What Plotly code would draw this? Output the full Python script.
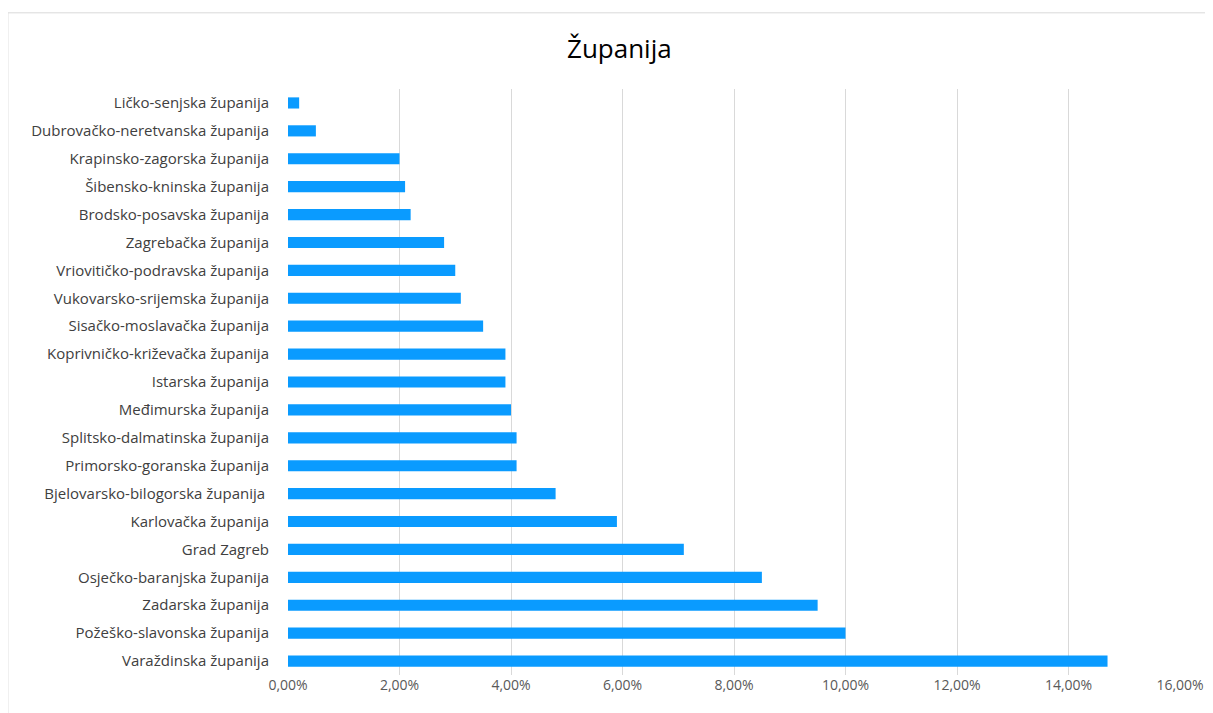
import plotly.graph_objects as go

# counties, listed top to bottom as in the chart
zupanije = [
    "Ličko-senjska županija",
    "Dubrovačko-neretvanska županija",
    "Krapinsko-zagorska županija",
    "Šibensko-kninska županija",
    "Brodsko-posavska županija",
    "Zagrebačka županija",
    "Vriovitičko-podravska županija",
    "Vukovarsko-srijemska županija",
    "Sisačko-moslavačka županija",
    "Koprivničko-križevačka županija",
    "Istarska županija",
    "Međimurska županija",
    "Splitsko-dalmatinska županija",
    "Primorsko-goranska županija",
    "Bjelovarsko-bilogorska županija ",
    "Karlovačka županija",
    "Grad Zagreb",
    "Osječko-baranjska županija",
    "Zadarska županija",
    "Požeško-slavonska županija",
    "Varaždinska županija",
]
udio = [
    0.002, 0.005, 0.020, 0.021, 0.022, 0.028, 0.030, 0.031, 0.035, 0.039,
    0.039, 0.040, 0.041, 0.041, 0.048, 0.059, 0.071, 0.085, 0.095, 0.100,
    0.147,
]
x_ticks = [0, 0.02, 0.04, 0.06, 0.08, 0.10, 0.12, 0.14, 0.16]

fig = go.Figure(
    go.Bar(
        x=udio,
        y=zupanije,
        orientation="h",
        width=0.4,
        marker=dict(color="#0a9bff", line=dict(width=0)),
    )
)

fig.update_layout(
    width=1213,
    height=713,
    separators=",.",
    paper_bgcolor="white",
    plot_bgcolor="white",
    showlegend=False,
    margin=dict(l=280, r=41, t=81, b=46),
    font=dict(family="Open Sans", color="#404040"),
    title=dict(
        text="Županija",
        x=0.504,
        xanchor="center",
        y=0.943,
        yanchor="middle",
        font=dict(size=26, color="#000000", family="Open Sans"),
    ),
)

fig.update_xaxes(
    range=[0, 0.16],
    tickvals=x_ticks,
    tickformat=".2%",
    showgrid=True,
    gridcolor="#d9d9d9",
    gridwidth=1,
    zeroline=False,
    showline=False,
    ticks="",
    tickfont=dict(size=14, color="#595959"),
)
fig.update_yaxes(
    autorange="reversed",
    showgrid=False,
    showline=False,
    ticks="",
    ticklabelstandoff=18,
    tickfont=dict(size=15, color="#404040"),
)

# light chart frame (top and left edges visible)
fig.add_shape(
    type="rect",
    xref="paper", yref="paper",
    x0=-0.314, x1=1.2, y0=-0.2, y1=1.13,
    line=dict(color="#d9d9d9", width=1),
    fillcolor="rgba(0,0,0,0)",
    layer="below",
)

fig.write_html("out.html")
